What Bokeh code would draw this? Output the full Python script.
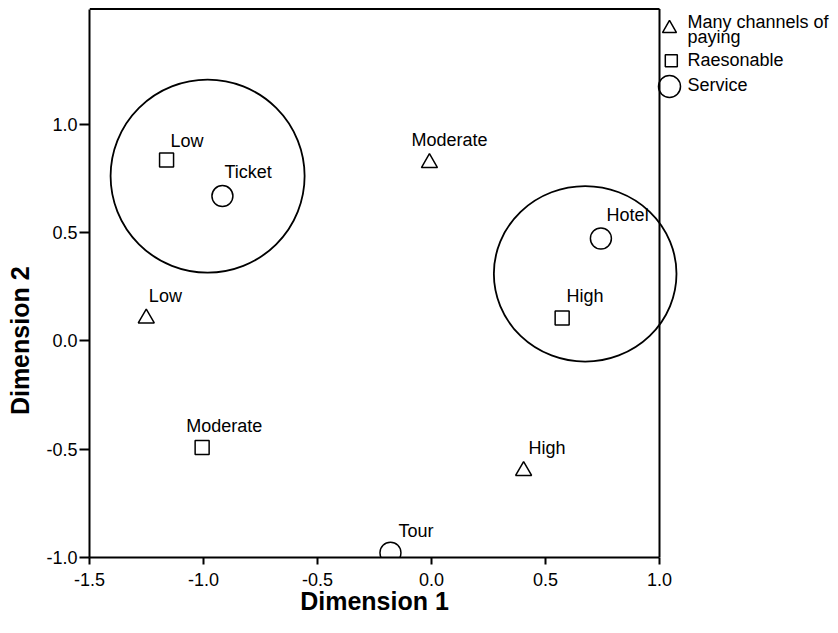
from bokeh.plotting import figure
from bokeh.models import (Range1d, FixedTicker, ColumnDataSource, PrintfTickFormatter,
                          LinearAxis, CustomJSTickFormatter)
from bokeh.core.properties import value
from bokeh.embed import file_html
from bokeh.resources import INLINE

# ---------------- data ----------------
paying_labels = ["Low", "Moderate", "High"]          # Many channels of paying (triangles)
paying_x = [-1.251, -0.009, 0.404]
paying_y = [0.104, 0.821, -0.600]

reason_labels = ["Low", "Moderate", "High"]          # Raesonable (squares)
reason_x = [-1.162, -1.006, 0.573]
reason_y = [0.834, -0.492, 0.105]

service_labels = ["Ticket", "Hotel", "Tour"]         # Service (circles)
service_x = [-0.917, 0.743, -0.180]
service_y = [0.668, 0.472, -0.978]

# highlighted groups (drawn circles)
group_x = [-0.982, 0.674]
group_y = [0.760, 0.309]
group_w = [0.851, 0.801]
group_h = [0.891, 0.810]

x_ticks = [-1.5, -1.0, -0.5, 0.0, 0.5, 1.0]
y_ticks = [-1.0, -0.5, 0.0, 0.5, 1.0]
legend_titles = ["Many channels of", "paying", "Raesonable", "Service"]
x_title = "Dimension 1"
y_title = "Dimension 2"

# ---------------- layout / style ----------------
W, H = 834, 630
FL = 89                  # frame left (px)
FBOT = 557               # frame bottom (px from top)
XPPU = 228.0             # px per unit on x
YPPU = 216.7             # px per unit on y
X0, Y0 = -1.5, -1.0
X_END = X0 + (W - FL) / XPPU
Y_END = Y0 + FBOT / YPPU
X_MAX = 1.0
Y_MAX = 1.0 + (123 - 8) / YPPU
FONT = "Liberation Sans"
FS = "18px"
BASE_FIX = -6            # baseline correction (px)

def ix(px):  # canvas pixel -> data x
    return X0 + (px - FL) / XPPU

def iy(py):  # canvas pixel -> data y
    return Y_END - py / YPPU

# label offsets (screen px, relative to marker)
paying_dx, paying_dy = [2.6, -18, 5], [-16.7, -17, -17]
reason_dx, reason_dy = [4, -16, 4.3], [-13.3, -15, -15.6]
service_dx, service_dy = [2, 5.7, 8], [-18.3, -17.7, -16]

p = figure(width=W, height=H, output_backend="svg", toolbar_location=None,
           x_range=Range1d(X0, X_END), y_range=Range1d(Y0, Y_END),
           min_border_left=FL, min_border_bottom=H - FBOT, min_border_top=0, min_border_right=0)
p.outline_line_color = None
p.xgrid.visible = False
p.ygrid.visible = False
p.background_fill_color = "white"
p.border_fill_color = "white"

for ax, ticks, tick_len, std in ((p.xaxis[0], x_ticks, 7, 8), (p.yaxis[0], y_ticks, 10, 2)):
    ax.ticker = FixedTicker(ticks=ticks)
    ax.minor_tick_line_color = None
    ax.major_tick_in = 0
    ax.major_tick_out = tick_len
    ax.major_tick_line_width = 2
    ax.axis_line_width = 2
    ax.axis_line_color = "black"
    ax.major_tick_line_color = "black"
    ax.major_label_text_font = FONT
    ax.major_label_text_font_size = FS
    ax.major_label_text_color = "black"
    ax.major_label_standoff = std
    ax.formatter = PrintfTickFormatter(format="%.1f")

p.xaxis[0].bounds = (X0, X_MAX)
p.yaxis[0].bounds = (Y0, Y_MAX)

# axis titles: centred on the bordered area (x = middle of -1.5..1.0, y = 0.0)
def title_axis(text, centre, std, vertical):
    ax = LinearAxis(ticker=FixedTicker(ticks=[centre]),
                    formatter=CustomJSTickFormatter(args=dict(t=text), code="return t"))
    ax.axis_line_color = None
    ax.major_tick_line_color = None
    ax.minor_tick_line_color = None
    ax.major_tick_in = 0
    ax.major_tick_out = 0
    ax.major_label_standoff = std
    ax.major_label_text_font = FONT
    ax.major_label_text_font_size = "25px"
    ax.major_label_text_font_style = "bold"
    ax.major_label_text_color = "black"
    if vertical:
        ax.major_label_orientation = "vertical"
    return ax

p.add_layout(title_axis(x_title, (X0 + X_MAX) / 2, -2, False), "below")
p.add_layout(title_axis(y_title, 0.0, 9, True), "left")

# frame (top and right sides)
p.segment(x0=[X0, X_MAX], y0=[Y_MAX, Y0], x1=[X_MAX, X_MAX], y1=[Y_MAX, Y_MAX],
          line_color="black", line_width=2)

# group circles
p.ellipse(x=group_x, y=group_y, width=group_w, height=group_h,
          fill_color=None, line_color="black", line_width=1.8)

# points
series = [
    (paying_x, paying_y, paying_labels, paying_dx, paying_dy, "triangle", 16),
    (reason_x, reason_y, reason_labels, reason_dx, reason_dy, "square", 14),
    (service_x, service_y, service_labels, service_dx, service_dy, "circle", 21),
]
for xs, ys, labs, dx, dy, marker, size in series:
    src = ColumnDataSource(dict(x=xs, y=ys, label=labs, dx=dx,
                                dy=[d + BASE_FIX for d in dy]))
    p.scatter("x", "y", source=src, marker=marker, size=size,
              fill_color=None, line_color="black", line_width=1.5)
    p.text("x", "y", text="label", source=src, x_offset="dx", y_offset="dy",
           text_font=value(FONT), text_font_size=FS, text_color="black",
           text_align="left", text_baseline="alphabetic")

# legend (outside the bordered area)
leg_mx = [ix(669), ix(670.8), ix(669)]
leg_my = [iy(28), iy(60.3), iy(86)]
for (mx, my, marker, size) in zip(leg_mx, leg_my, ["triangle", "square", "circle"], [14, 12, 22]):
    p.scatter([mx], [my], marker=marker, size=size, fill_color=None,
              line_color="black", line_width=1.5)
p.text(x=[ix(687)] * 4,
       y=[iy(b + BASE_FIX) for b in (27.3, 42, 65.7, 90)], text=legend_titles,
       text_font=value(FONT), text_font_size=FS, text_color="black",
       text_align="left", text_baseline="alphabetic")

open("out.html", "w").write(file_html(p, INLINE))
